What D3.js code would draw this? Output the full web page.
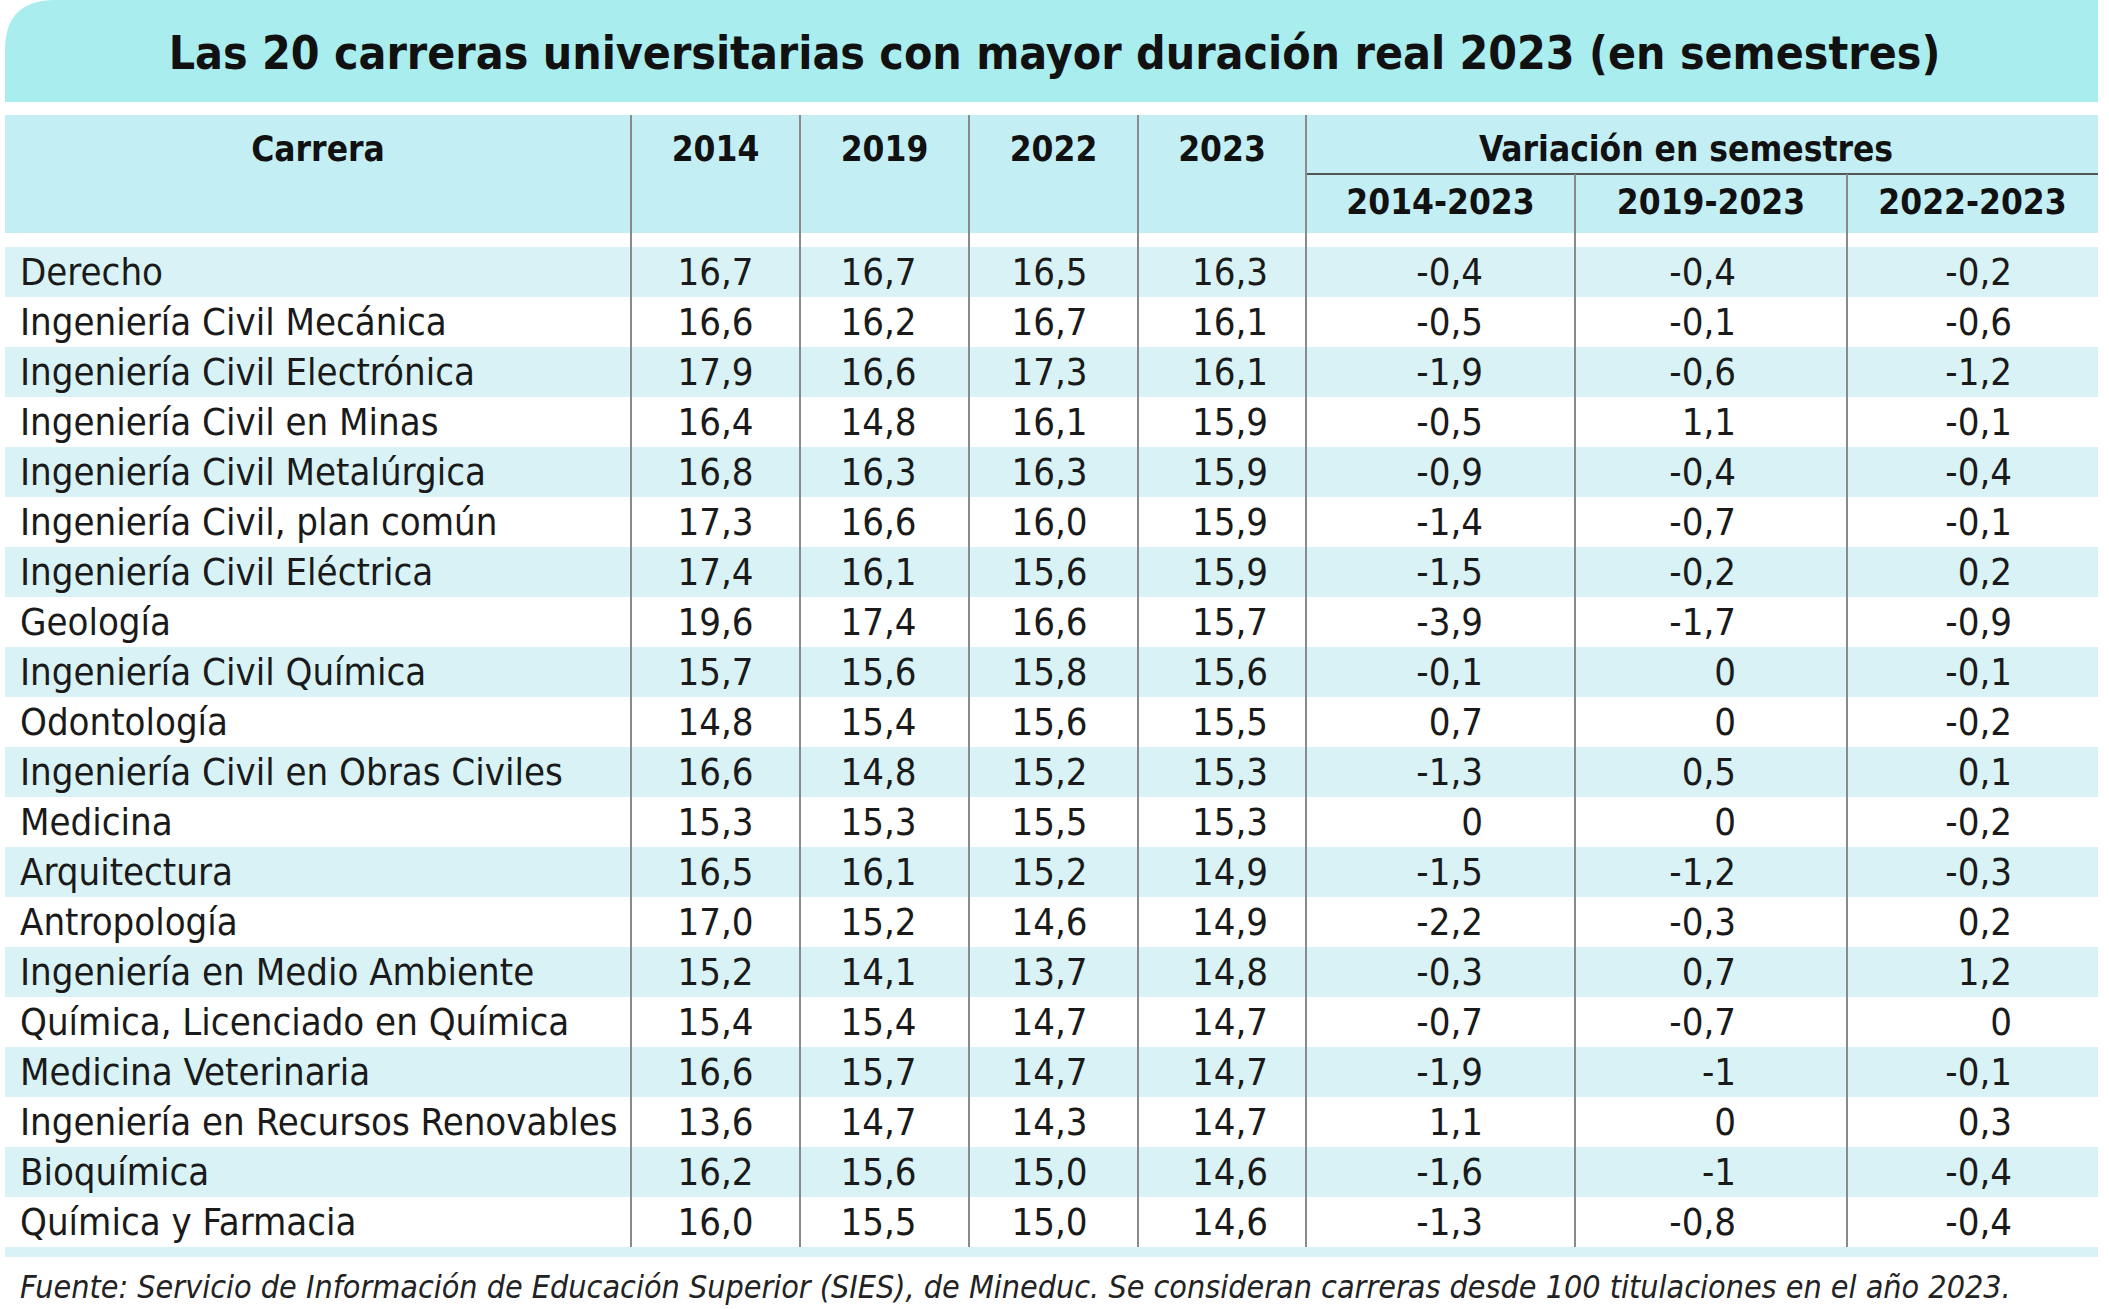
<!DOCTYPE html>
<html>
<head>
<meta charset="UTF-8"/>
<script src="https://d3js.org/d3.v7.min.js"></script>
<title>duracion real carreras</title>
<style>
body{margin:0;background:#fff;}
svg{display:block;}
</style>
</head>
<body>
<svg id='big' width=2109 height=1309></svg>
<script>
'use strict';

var titulo = 'Las 20 carreras universitarias con mayor duración real 2023 (en semestres)';
var fuente = 'Fuente: Servicio de Información de Educación Superior (SIES), de Mineduc. Se consideran carreras desde 100 titulaciones en el año 2023.';

var carreras = ['Derecho', 'Ingeniería Civil Mecánica', 'Ingeniería Civil Electrónica',
	'Ingeniería Civil en Minas', 'Ingeniería Civil Metalúrgica', 'Ingeniería Civil, plan común',
	'Ingeniería Civil Eléctrica', 'Geología', 'Ingeniería Civil Química', 'Odontología',
	'Ingeniería Civil en Obras Civiles', 'Medicina', 'Arquitectura', 'Antropología',
	'Ingeniería en Medio Ambiente', 'Química, Licenciado en Química', 'Medicina Veterinaria',
	'Ingeniería en Recursos Renovables', 'Bioquímica', 'Química y Farmacia'];

var anios = ['2014', '2019', '2022', '2023'];
var periodos = ['2014-2023', '2019-2023', '2022-2023'];

var d2014 = [16.7, 16.6, 17.9, 16.4, 16.8, 17.3, 17.4, 19.6, 15.7, 14.8, 16.6, 15.3, 16.5, 17.0, 15.2, 15.4, 16.6, 13.6, 16.2, 16.0];
var d2019 = [16.7, 16.2, 16.6, 14.8, 16.3, 16.6, 16.1, 17.4, 15.6, 15.4, 14.8, 15.3, 16.1, 15.2, 14.1, 15.4, 15.7, 14.7, 15.6, 15.5];
var d2022 = [16.5, 16.7, 17.3, 16.1, 16.3, 16.0, 15.6, 16.6, 15.8, 15.6, 15.2, 15.5, 15.2, 14.6, 13.7, 14.7, 14.7, 14.3, 15.0, 15.0];
var d2023 = [16.3, 16.1, 16.1, 15.9, 15.9, 15.9, 15.9, 15.7, 15.6, 15.5, 15.3, 15.3, 14.9, 14.9, 14.8, 14.7, 14.7, 14.7, 14.6, 14.6];

var var1423 = [-0.4, -0.5, -1.9, -0.5, -0.9, -1.4, -1.5, -3.9, -0.1, 0.7, -1.3, 0, -1.5, -2.2, -0.3, -0.7, -1.9, 1.1, -1.6, -1.3];
var var1923 = [-0.4, -0.1, -0.6, 1.1, -0.4, -0.7, -0.2, -1.7, 0, 0, 0.5, 0, -1.2, -0.3, 0.7, -0.7, -1, 0, -1, -0.8];
var var2223 = [-0.2, -0.6, -1.2, -0.1, -0.4, -0.1, 0.2, -0.9, -0.1, -0.2, 0.1, -0.2, -0.3, 0.2, 1.2, 0, -0.1, 0.3, -0.4, -0.4];


var FONT = "'Liberation Sans Narrow', 'DejaVu Sans Condensed', 'Roboto Condensed', 'Liberation Sans', sans-serif";

// 16.0 -> "16,0"
function fmtAnio(v){
	return v.toFixed(1).replace('.', ',');
}
// -1 -> "-1", 0.7 -> "0,7"
function fmtVar(v){
	return String(v).replace('.', ',');
}

function main(){
	var svg = d3.select('#big');

	var left = 5, right = 2098;
	// column edges: carrera | 4 years | 3 variations
	var edges = [left, 631, 800, 969, 1138, 1306, 1575, 1847, right];
	var cols = d3.range(edges.length - 1).map(function(i){
		return {x0: edges[i], x1: edges[i+1], cx: (edges[i] + edges[i+1]) / 2};
	});

	var sy = d3.scaleBand()
		.domain(d3.range(carreras.length))
		.range([247, 1247]);

	// title band (rounded top-left corner)
	var tb = {x0: left, x1: right, y0: 0, y1: 102, r: 50};
	svg.append('path')
		.attr('d', 'M' + tb.x0 + ',' + tb.y1 +
			'V' + (tb.y0 + tb.r) +
			'Q' + tb.x0 + ',' + tb.y0 + ' ' + (tb.x0 + tb.r) + ',' + tb.y0 +
			'H' + tb.x1 + 'V' + tb.y1 + 'Z')
		.attr('fill', '#a9edef');

	svg.append('text')
		.attr('x', (left + right) / 2 + 3)
		.attr('y', 69)
		.attr('text-anchor', 'middle')
		.attr('font-family', FONT)
		.attr('font-weight', 'bold')
		.attr('font-size', 46)
		.attr('fill', '#111')
		.text(titulo);

	// header band
	svg.append('rect')
		.attr('x', left).attr('y', 115)
		.attr('width', right - left).attr('height', 118)
		.attr('fill', '#c3eef4');

	// row bands
	svg.selectAll('.band')
		.data(d3.range(carreras.length))
		.enter()
		.append('rect')
		.attr('class', 'band')
		.attr('x', left)
		.attr('y', function(d){ return sy(d); })
		.attr('width', right - left)
		.attr('height', sy.bandwidth())
		.attr('fill', function(d){ return d % 2 == 0 ? '#d8f2f5' : '#ffffff'; });

	svg.append('rect')
		.attr('x', left).attr('y', sy.range()[1])
		.attr('width', right - left).attr('height', 10)
		.attr('fill', '#d8f2f5');

	// header texts
	var hdr = svg.append('g')
		.attr('font-family', FONT)
		.attr('font-weight', 'bold')
		.attr('font-size', 35)
		.attr('fill', '#111')
		.attr('text-anchor', 'middle');

	hdr.append('text').attr('x', cols[0].cx).attr('y', 161).text('Carrera');
	hdr.selectAll('.anio')
		.data(anios)
		.enter()
		.append('text')
		.attr('x', function(d, i){ return cols[i+1].cx; })
		.attr('y', 161)
		.text(function(d){ return d; });
	hdr.append('text').attr('x', (cols[5].x0 + right) / 2 - 16).attr('y', 161).text('Variación en semestres');
	hdr.selectAll('.periodo')
		.data(periodos)
		.enter()
		.append('text')
		.attr('x', function(d, i){ return cols[i+5].cx; })
		.attr('y', 214)
		.text(function(d){ return d; });

	// lines
	svg.append('line')
		.attr('x1', cols[5].x0).attr('x2', right)
		.attr('y1', 174).attr('y2', 174)
		.attr('stroke', '#555').attr('stroke-width', 2);

	svg.selectAll('.colline')
		.data(edges.slice(1, -1))
		.enter()
		.append('line')
		.attr('class', 'colline')
		.attr('x1', function(d){ return d; })
		.attr('x2', function(d){ return d; })
		.attr('y1', function(d, i){ return i >= 5 ? 174 : 115; })
		.attr('y2', sy.range()[1])
		.attr('stroke', '#8a8a8a')
		.attr('stroke-width', 2);

	// body
	var body = svg.append('g')
		.attr('font-family', FONT)
		.attr('font-size', 38)
		.attr('fill', '#1a1a1a');

	var rows = body.selectAll('.row')
		.data(carreras)
		.enter()
		.append('g')
		.attr('class', 'row')
		.attr('transform', function(d, i){ return 'translate(0,' + (sy(i) + 38) + ')'; });

	rows.append('text')
		.attr('x', 20)
		.text(function(d){ return d; });

	var yearSeries = [d2014, d2019, d2022, d2023];
	yearSeries.forEach(function(serie, k){
		rows.append('text')
			.attr('x', cols[k+1].cx + [0, -6, -4, 8][k])
			.attr('text-anchor', 'middle')
			.text(function(d, i){ return fmtAnio(serie[i]); });
	});

	var varSeries = [var1423, var1923, var2223];
	var varRight = [1483, 1736, 2012];
	varSeries.forEach(function(serie, k){
		rows.append('text')
			.attr('x', varRight[k])
			.attr('text-anchor', 'end')
			.text(function(d, i){ return fmtVar(serie[i]); });
	});

	// footer
	svg.append('text')
		.attr('x', 20)
		.attr('y', 1298)
		.attr('font-family', FONT)
		.attr('font-style', 'italic')
		.attr('font-size', 32)
		.attr('fill', '#222')
		.text(fuente);

	return svg;
}

var svg = main();
</script>
</body>
</html>
